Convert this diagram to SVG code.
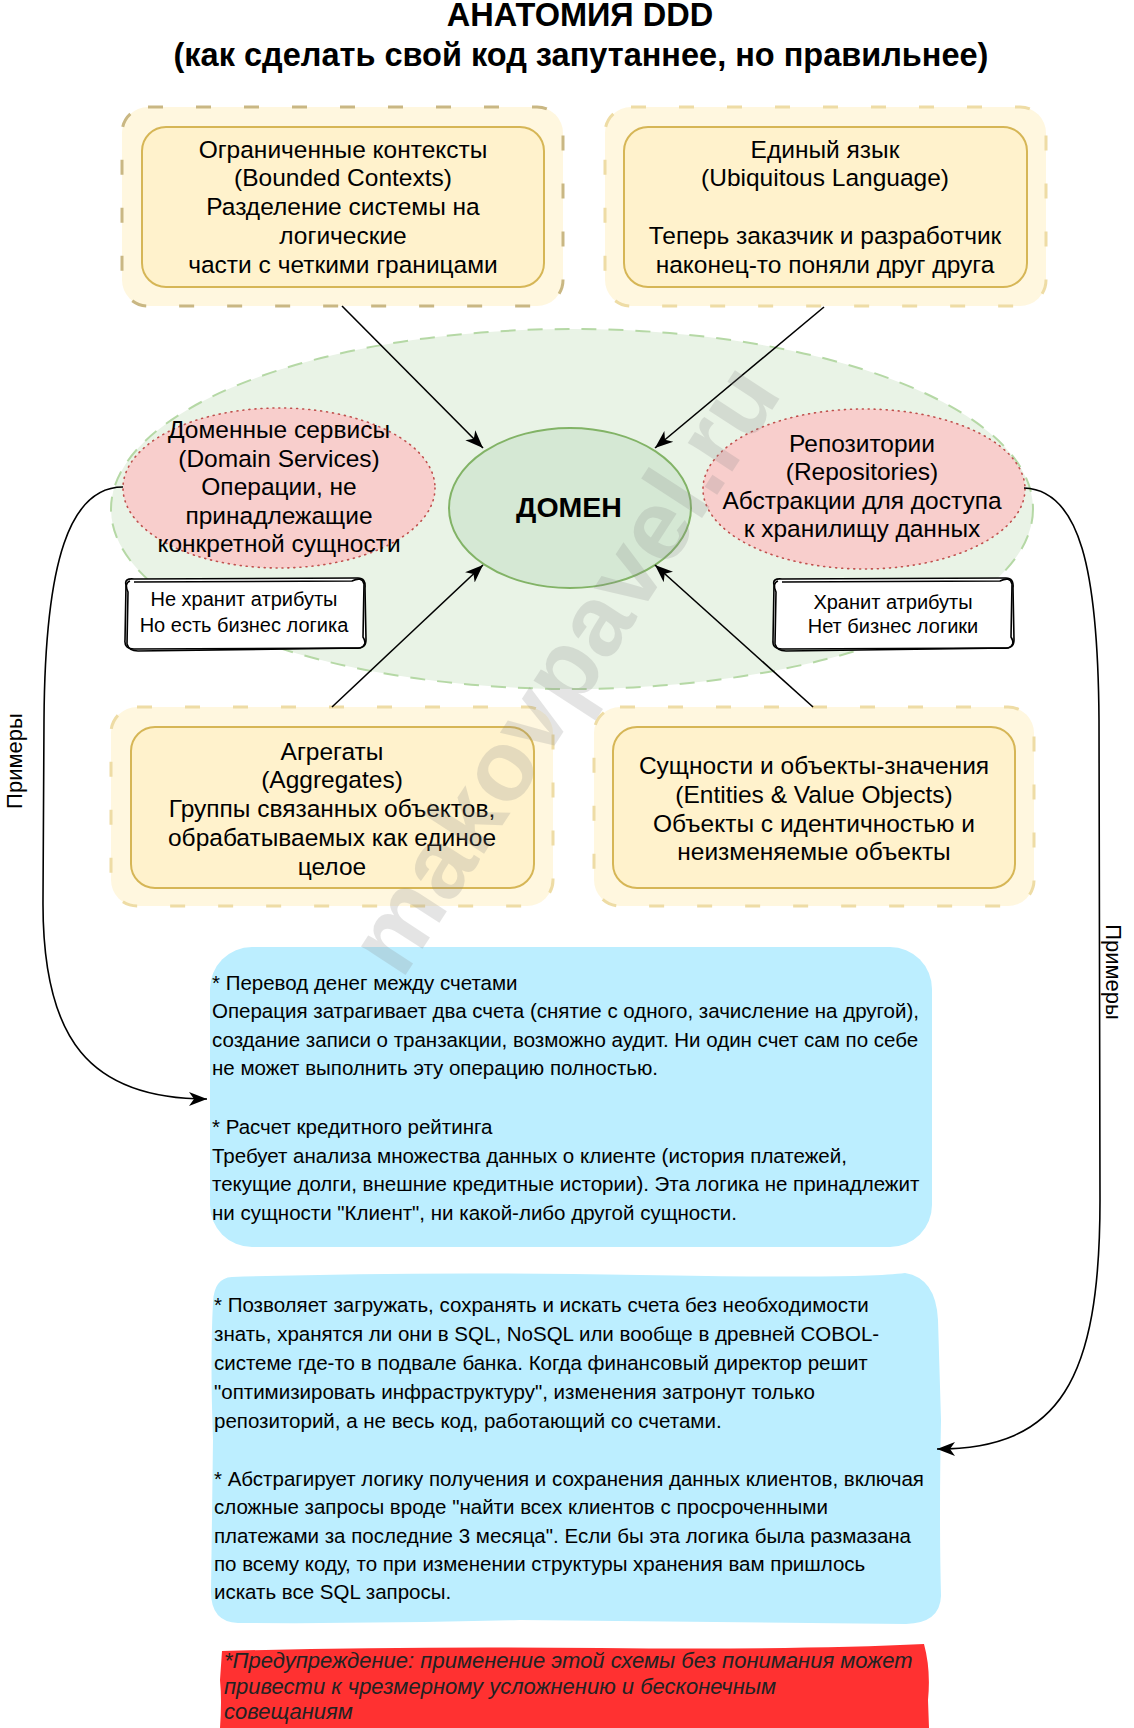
<svg xmlns="http://www.w3.org/2000/svg" width="1134" height="1728" viewBox="0 0 1134 1728">
<defs>
<style>
text{font-family:"Liberation Sans",Arial,Helvetica,sans-serif;fill:#000}
.ttl{font-size:32.5px;font-weight:bold;text-anchor:middle}
.bx{font-size:24.5px;text-anchor:middle}
.nt{font-size:20px;text-anchor:middle}
.bl{font-size:20.5px}
.wr{font-size:22px;font-style:italic;fill:#222}
.outer{fill:#FFF7DF;stroke:#EEDCA5;stroke-width:3;stroke-dasharray:15 33}
.inner{fill:#FFF2CC;stroke:#D6B656;stroke-width:2}
.pink{fill:#F8CECC;stroke:#C0504D;stroke-width:1.6;stroke-dasharray:1 5;stroke-linecap:round}
.conn{fill:none;stroke:#000;stroke-width:1.6}
.sk{fill:none;stroke:#000;stroke-width:1.6;stroke-linejoin:round}
</style>
<marker id="ah" markerUnits="userSpaceOnUse" markerWidth="20" markerHeight="16" viewBox="0 0 20 16" refX="18" refY="8" orient="auto">
<path d="M0,1 L18,8 L0,15 L5,8 Z" fill="#000"/>
</marker>
</defs>
<rect width="1134" height="1728" fill="#fff"/>

<g id="title">
<text class="ttl" x="580" y="26">АНАТОМИЯ DDD</text>
<text class="ttl" x="581" y="66">(как сделать свой код запутаннее, но правильнее)</text>
</g>

<g id="domain-area">
<ellipse cx="572" cy="509" rx="461" ry="180" fill="#E9F3E6" stroke="#B5D8A5" stroke-width="2" stroke-dasharray="15 12"/>
</g>

<g id="bounded-contexts">
<rect class="outer" x="122" y="107" width="441" height="199" rx="26" style="stroke:#C9B783"/>
<rect class="inner" x="142" y="127" width="402" height="160" rx="24"/>
<text class="bx" x="343" y="158">Ограниченные контексты</text>
<text class="bx" x="343" y="186">(Bounded Contexts)</text>
<text class="bx" x="343" y="215">Разделение системы на</text>
<text class="bx" x="343" y="244">логические</text>
<text class="bx" x="343" y="273">части с четкими границами</text>
</g>

<g id="ubiquitous-language">
<rect class="outer" x="605" y="107" width="441" height="199" rx="26"/>
<rect class="inner" x="624" y="127" width="403" height="160" rx="24"/>
<text class="bx" x="825" y="158">Единый язык</text>
<text class="bx" x="825" y="186">(Ubiquitous Language)</text>
<text class="bx" x="825" y="244">Теперь заказчик и разработчик</text>
<text class="bx" x="825" y="273">наконец-то поняли друг друга</text>
</g>

<g id="domain-services">
<ellipse class="pink" cx="279" cy="488" rx="156" ry="80"/>
<text class="bx" x="279" y="438">Доменные сервисы</text>
<text class="bx" x="279" y="467">(Domain Services)</text>
<text class="bx" x="279" y="495">Операции, не</text>
<text class="bx" x="279" y="524">принадлежащие</text>
<text class="bx" x="279" y="552">конкретной сущности</text>
</g>

<g id="repositories">
<ellipse class="pink" cx="864" cy="489" rx="161" ry="80"/>
<text class="bx" x="862" y="452">Репозитории</text>
<text class="bx" x="862" y="480">(Repositories)</text>
<text class="bx" x="862" y="509">Абстракции для доступа</text>
<text class="bx" x="862" y="537">к хранилищу данных</text>
</g>

<g id="domain">
<ellipse cx="570" cy="508" rx="121" ry="80" fill="#D5E8D4" stroke="#82B366" stroke-width="2"/>
<text x="569" y="517" style="font-size:28.5px;font-weight:bold;text-anchor:middle">ДОМЕН</text>
</g>

<g id="note-services">
<path d="M126,585 Q124,578 134,579 L358,578 Q366,578 365,588 L366,640 Q366,649 356,648 L134,649 Q124,649 125,640 Z" fill="#fff"/>
<path class="sk" d="M126,585 Q124,578 134,579 L358,578 Q366,578 365,588 L366,640 Q366,649 356,648 L134,649 Q124,649 125,640 Z"/>
<path class="sk" d="M130,581 Q124,583 128,592 L127,644 Q129,651 138,651 L360,648 Q368,645 363,637 L364,584 Q362,576 352,581 L134,582" stroke-width="1.2"/>
<text class="nt" x="244" y="606">Не хранит атрибуты</text>
<text class="nt" x="244" y="632">Но есть бизнес логика</text>
</g>

<g id="note-repos">
<path d="M774,585 Q772,578 782,579 L1006,578 Q1014,578 1013,588 L1014,640 Q1014,649 1004,648 L782,649 Q772,649 773,640 Z" fill="#fff"/>
<path class="sk" d="M774,585 Q772,578 782,579 L1006,578 Q1014,578 1013,588 L1014,640 Q1014,649 1004,648 L782,649 Q772,649 773,640 Z"/>
<path class="sk" d="M778,581 Q772,583 776,592 L775,644 Q777,651 786,651 L1008,648 Q1016,645 1011,637 L1012,584 Q1010,576 1000,581 L782,582" stroke-width="1.2"/>
<text class="nt" x="893" y="609">Хранит атрибуты</text>
<text class="nt" x="893" y="633">Нет бизнес логики</text>
</g>

<g id="aggregates">
<rect class="outer" x="111" y="707" width="442" height="199" rx="26"/>
<rect class="inner" x="131" y="727" width="403" height="161" rx="24"/>
<text class="bx" x="332" y="760">Агрегаты</text>
<text class="bx" x="332" y="788">(Aggregates)</text>
<text class="bx" x="332" y="817">Группы связанных объектов,</text>
<text class="bx" x="332" y="846">обрабатываемых как единое</text>
<text class="bx" x="332" y="875">целое</text>
</g>

<g id="entities">
<rect class="outer" x="594" y="707" width="440" height="199" rx="26"/>
<rect class="inner" x="613" y="727" width="402" height="161" rx="24"/>
<text class="bx" x="814" y="774">Сущности и объекты-значения</text>
<text class="bx" x="814" y="803">(Entities &amp; Value Objects)</text>
<text class="bx" x="814" y="832">Объекты с идентичностью и</text>
<text class="bx" x="814" y="860">неизменяемые объекты</text>
</g>

<g id="examples-services">
<rect x="210" y="947" width="722" height="300" rx="42" fill="#BCEEFF"/>
<text class="bl" x="212" y="990">* Перевод денег между счетами</text>
<text class="bl" x="212" y="1018">Операция затрагивает два счета (снятие с одного, зачисление на другой),</text>
<text class="bl" x="212" y="1047">создание записи о транзакции, возможно аудит. Ни один счет сам по себе</text>
<text class="bl" x="212" y="1075">не может выполнить эту операцию полностью.</text>
<text class="bl" x="212" y="1134">* Расчет кредитного рейтинга</text>
<text class="bl" x="212" y="1163">Требует анализа множества данных о клиенте (история платежей,</text>
<text class="bl" x="212" y="1191">текущие долги, внешние кредитные истории). Эта логика не принадлежит</text>
<text class="bl" x="212" y="1220">ни сущности "Клиент", ни какой-либо другой сущности.</text>
</g>

<g id="examples-repos">
<path d="M232,1277 Q420,1271 640,1275 T905,1273 Q936,1278 938,1320 L941,1420 Q939,1520 941,1596 Q940,1623 906,1624 L520,1620 Q380,1624 238,1623 Q211,1622 211,1592 L213,1440 Q210,1360 213,1302 Q214,1278 232,1277 Z" fill="#BCEEFF"/>
<text class="bl" x="214" y="1312">* Позволяет загружать, сохранять и искать счета без необходимости</text>
<text class="bl" x="214" y="1341">знать, хранятся ли они в SQL, NoSQL или вообще в древней COBOL-</text>
<text class="bl" x="214" y="1370">системе где-то в подвале банка. Когда финансовый директор решит</text>
<text class="bl" x="214" y="1399">"оптимизировать инфраструктуру", изменения затронут только</text>
<text class="bl" x="214" y="1428">репозиторий, а не весь код, работающий со счетами.</text>
<text class="bl" x="214" y="1486">* Абстрагирует логику получения и сохранения данных клиентов, включая</text>
<text class="bl" x="214" y="1514">сложные запросы вроде "найти всех клиентов с просроченными</text>
<text class="bl" x="214" y="1543">платежами за последние 3 месяца". Если бы эта логика была размазана</text>
<text class="bl" x="214" y="1571">по всему коду, то при изменении структуры хранения вам пришлось</text>
<text class="bl" x="214" y="1599">искать все SQL  запросы.</text>
</g>

<g id="warning">
<path d="M222,1651 Q400,1646 600,1648 T924,1644 Q931,1670 928,1700 L929,1728 L220,1728 Q222,1700 220,1680 Z" fill="#FF3131"/>
<text class="wr" x="224" y="1668">*Предупреждение: применение этой схемы без понимания может</text>
<text class="wr" x="224" y="1694">привести к чрезмерному усложнению и бесконечным</text>
<text class="wr" x="224" y="1719">совещаниям</text>
</g>

<g id="connectors">
<path class="conn" d="M342,306 L483,448" marker-end="url(#ah)"/>
<path class="conn" d="M824,307 L655,448" marker-end="url(#ah)"/>
<path class="conn" d="M332,707 L483,565" marker-end="url(#ah)"/>
<path class="conn" d="M813,707 L655,565" marker-end="url(#ah)"/>
<path class="conn" d="M123,487 C70,487 45,560 44,720 L43,900 C42,1040 90,1099 207,1099" marker-end="url(#ah)"/>
<path class="conn" d="M1024,488 C1080,490 1098,570 1099,720 L1100,1200 C1100,1380 1060,1449 937,1449" marker-end="url(#ah)"/>
<text x="0" y="0" transform="translate(22,761) rotate(-90)" style="font-size:22px;text-anchor:middle">Примеры</text>
<text x="0" y="0" transform="translate(1106,972) rotate(90)" style="font-size:22px;text-anchor:middle">Примеры</text>
</g>

<g id="watermark">
<text x="0" y="0" transform="translate(563,668) rotate(-57)" style="font-size:100px;font-weight:bold;text-anchor:middle;fill:#8a8a8a;opacity:0.22" dominant-baseline="central">makovpavel.ru</text>
</g>
</svg>
